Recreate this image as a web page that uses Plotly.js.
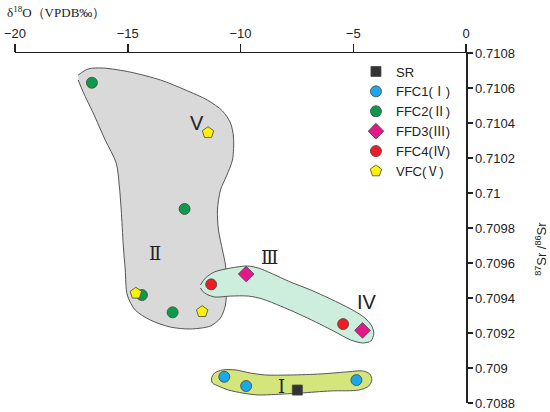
<!DOCTYPE html>
<html>
<head>
<meta charset="utf-8">
<script src="https://cdn.plot.ly/plotly-3.0.1.min.js"></script>
<style>html,body{margin:0;padding:0;background:#fff;}#chart{width:550px;height:412px;}</style>
</head>
<body>
<div id="chart"></div>
<script>
// ---- data (δ18O, 87Sr/86Sr) ----
const srX = [-7.48];
const srY = [0.708874];
const ffc1X = [-10.72, -9.75, -4.86];
const ffc1Y = [0.70895, 0.708897, 0.708931];
const ffc2X = [-16.59, -12.48, -14.37, -13.01];
const ffc2Y = [0.71063, 0.709909, 0.709417, 0.709318];
const ffd3X = [-9.75, -4.59];
const ffd3Y = [0.709537, 0.709215];
const ffc4X = [-11.30, -5.45];
const ffc4Y = [0.709478, 0.709251];
const vfcX = [-11.44, -14.64, -11.70];
const vfcY = [0.710345, 0.709427, 0.709322];

// field outlines
const field2X = [-17.2,-16.756,-16.089,-14.889,-13.556,-12.444,-11.467,-10.8,-10.444,-10.311,-10.356,-10.622,-10.889,-11.022,-10.978,-10.8,-10.667,-10.622,-10.667,-10.889,-11.333,-12.222,-13.111,-14,-14.667,-15.022,-15.111,-15.2,-15.289,-15.378,-15.511,-16,-16.533,-16.978,-17.2];
const field2Y = [0.710674,0.710709,0.710714,0.710691,0.710646,0.710589,0.710531,0.710469,0.7104,0.71032,0.710189,0.710097,0.710017,0.709903,0.709789,0.709674,0.709589,0.709474,0.70936,0.709286,0.70924,0.709223,0.709234,0.709274,0.709331,0.709417,0.70956,0.709703,0.709903,0.710046,0.710171,0.710303,0.710457,0.710577,0.710646];
const field34X = [-11.778,-11.556,-11.156,-10.444,-9.689,-9.2,-8.667,-7.778,-6.889,-6,-5.111,-4.533,-4.178,-4.089,-4.222,-4.578,-5.111,-5.867,-6.667,-7.422,-8.222,-9.022,-9.644,-10.444,-11.156,-11.6,-11.778];
const field34Y = [0.709474,0.709514,0.709549,0.709571,0.709583,0.709571,0.709543,0.709491,0.709446,0.709394,0.709337,0.709291,0.70924,0.709194,0.709154,0.709143,0.70916,0.709211,0.709263,0.709309,0.709354,0.709394,0.709411,0.709411,0.709406,0.709429,0.709457];
const field1X = [-11.289,-11.156,-10.8,-10.222,-9.556,-8.889,-7.778,-6.444,-5.333,-4.578,-4.267,-4.178,-4.311,-4.756,-6,-7.333,-8.444,-9.244,-9.911,-10.533,-10.978,-11.244,-11.289];
const field1Y = [0.708937,0.708971,0.708989,0.708989,0.708971,0.70896,0.70896,0.708966,0.708977,0.708983,0.708966,0.708931,0.708897,0.708874,0.708869,0.708857,0.708849,0.708846,0.708857,0.708874,0.708897,0.708914,0.708937];

// field labels
const fieldLabels = ['V', 'Ⅱ', 'Ⅲ', 'IV', 'Ⅰ'];
const fieldLabelSerif = [false, true, true, false, true];
const fieldLabelX = [-11.92, -13.78, -8.71, -4.41, -8.18];
const fieldLabelY = [0.7104, 0.709656, 0.70963, 0.709379, 0.708893];

// axis ticks
const yTickVals = [0.7088,0.709,0.7092,0.7094,0.7096,0.7098,0.71,0.7102,0.7104,0.7106,0.7108];
const yTickText = ['0.7088','0.709','0.7092','0.7094','0.7096','0.7098','0.71','0.7102','0.7104','0.7106','0.7108'];

const sans = 'Liberation Sans, Arial, Noto Sans CJK SC, sans-serif';
const serif = 'DejaVu Serif, Liberation Serif, serif';
const outline = {color: '#444', width: 0.8};

function field(x, y, fill) {
  return {x: x, y: y, type: 'scatter', mode: 'lines', fill: 'toself', fillcolor: fill,
    line: {color: '#555', width: 1, shape: 'spline', smoothing: 0.8},
    hoverinfo: 'skip', showlegend: false};
}
function pts(name, x, y, symbol, color, size) {
  return {x: x, y: y, name: name, type: 'scatter', mode: 'markers',
    marker: {symbol: symbol, color: color, size: size, line: outline}};
}

const traces = [
  field(field2X, field2Y, '#d9d9d9'),
  field(field34X, field34Y, '#cdeedd'),
  field(field1X, field1Y, '#d4e57c'),
  pts('SR', srX, srY, 'square', '#333333', 10),
  pts('FFC1(Ⅰ)', ffc1X, ffc1Y, 'circle', '#1ea6ea', 11),
  pts('FFC2(Ⅱ)', ffc2X, ffc2Y, 'circle', '#0f9a4a', 11),
  pts('FFD3(Ⅲ)', ffd3X, ffd3Y, 'diamond', '#e6178b', 12),
  pts('FFC4(Ⅳ)', ffc4X, ffc4Y, 'circle', '#ee1d24', 11),
  pts('VFC(Ⅴ)', vfcX, vfcY, 'pentagon', '#fff200', 12)
];

const annotations = fieldLabels.map((t, i) => ({
  x: fieldLabelX[i], y: fieldLabelY[i], xref: 'x', yref: 'y', text: t, showarrow: false,
  font: {family: fieldLabelSerif[i] ? serif : sans, size: fieldLabelSerif[i] ? 18 : 20, color: '#222'}
}));
annotations.push({
  xref: 'paper', yref: 'paper', x: -0.022, y: 1.117, xanchor: 'left', yanchor: 'middle',
  text: 'δ<sup>18</sup>O（VPDB‰）', showarrow: false,
  font: {family: 'Liberation Serif, Times New Roman, serif', size: 13, color: '#222'}
});
annotations.push({
  xref: 'paper', yref: 'paper', x: 1.166, y: 0.44, xanchor: 'center', yanchor: 'middle',
  text: '<sup>87</sup>Sr /<sup>86</sup>Sr', showarrow: false, textangle: -90,
  font: {family: sans, size: 13, color: '#222'}
});

const layout = {
  width: 550, height: 412,
  margin: {l: 15, r: 84, t: 53, b: 9},
  paper_bgcolor: '#fff', plot_bgcolor: '#fff',
  hovermode: false,
  xaxis: {
    side: 'top', range: [-20, 0], dtick: 5, tick0: 0,
    showgrid: false, zeroline: false, showline: true, linecolor: '#222', linewidth: 1.5,
    ticks: 'outside', ticklen: 8, tickwidth: 1.5, tickcolor: '#222',
    tickfont: {family: sans, size: 13, color: '#222'}
  },
  yaxis: {
    side: 'right', range: [0.7088, 0.7108], tickvals: yTickVals, ticktext: yTickText,
    showgrid: false, zeroline: false, showline: true, linecolor: '#222', linewidth: 1.5,
    ticks: 'outside', ticklen: 5, tickwidth: 1.5, tickcolor: '#222',
    tickfont: {family: sans, size: 13, color: '#222'}
  },
  legend: {x: 0.756, y: 0.99, xanchor: 'left', yanchor: 'top', bgcolor: 'rgba(0,0,0,0)',
    font: {family: sans, size: 13, color: '#222'}, tracegroupgap: 0},
  annotations: annotations
};

Plotly.newPlot('chart', traces, layout, {displayModeBar: false, staticPlot: true});
</script>
</body>
</html>
